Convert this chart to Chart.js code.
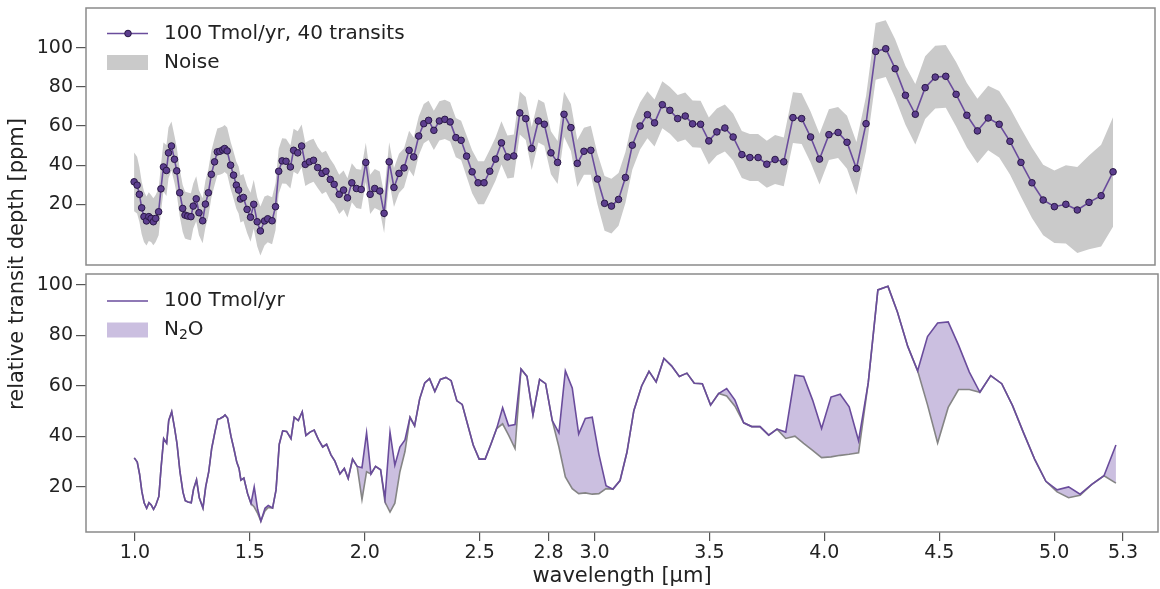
<!DOCTYPE html>
<html><head><meta charset="utf-8">
<script src="https://cdn.jsdelivr.net/npm/chart.js@4.4.1/dist/chart.umd.min.js"></script>
<style>
html,body{margin:0;padding:0;background:#fff;}
#wrap{position:relative;width:1160px;height:589px;overflow:hidden;}
.box{position:absolute;left:0;top:0;width:1160px;}
</style></head><body>
<div id="wrap">
  <div class="box" style="height:589px"><canvas id="cBottom"></canvas></div>
  <div class="box" style="height:272px"><canvas id="cTop"></canvas></div>
</div>
<script>
// ---------- data ----------
const wavelength = [
0.997,1.010,1.020,1.030,1.040,1.051,1.061,1.071,1.081,1.091,
1.104,1.114,1.125,1.138,1.147,1.160,1.173,1.183,1.196,1.209,
1.219,1.231,1.245,1.255,1.268,1.280,1.296,1.308,1.321,1.334,
1.348,1.360,1.371,1.384,1.392,1.403,1.418,1.431,1.443,1.453,
1.461,1.474,1.490,1.505,1.519,1.534,1.548,1.566,1.580,1.599,
1.614,1.628,1.643,1.660,1.679,1.693,1.711,1.728,1.744,1.762,
1.780,1.798,1.817,1.834,1.853,1.870,1.892,1.911,1.928,1.947,
1.967,1.988,2.008,2.027,2.047,2.069,2.088,2.110,2.131,2.153,
2.175,2.197,2.217,2.239,2.261,2.282,2.305,2.329,2.353,2.376,
2.401,2.424,2.448,2.472,2.498,2.524,2.549,2.574,2.600,2.626,
2.654,2.680,2.706,2.732,2.761,2.787,2.816,2.845,2.873,2.903,
2.931,2.960,2.990,3.019,3.050,3.080,3.111,3.141,3.171,3.205,
3.237,3.268,3.302,3.335,3.369,3.402,3.434,3.469,3.505,3.540,
3.575,3.611,3.649,3.684,3.720,3.758,3.794,3.832,3.872,3.910,
3.949,3.988,4.029,4.069,4.108,4.149,4.191,4.233,4.277,4.318,
4.363,4.406,4.449,4.493,4.539,4.584,4.631,4.677,4.724,4.772,
4.819,4.867,4.915,4.964,5.013,5.063,5.113,5.164,5.217,5.269];

// relative transit depth [ppm], 100 Tmol/yr spectrum
const depth = [
31.5,29.8,25.1,18.2,13.7,11.5,13.7,12.8,11.1,12.8,
16.2,27.9,39.1,37.3,46.3,49.8,43.0,37.1,25.9,17.9,
14.5,14.0,13.7,19.1,22.8,15.7,11.6,20.1,25.9,35.3,
41.7,46.8,47.1,47.8,48.5,47.3,40.0,34.9,29.8,27.3,
22.7,23.5,17.4,13.4,20.0,11.1,6.4,11.5,12.6,11.6,
18.8,36.9,42.2,42.0,39.1,47.6,46.3,49.8,40.4,41.7,
42.5,38.8,35.8,36.9,32.7,30.2,25.1,27.3,23.3,31.0,
28.1,27.6,41.4,25.1,28.1,26.8,15.4,41.7,28.6,35.8,
38.6,47.6,44.2,54.9,61.2,62.9,57.8,62.6,63.4,62.1,
54.1,52.7,44.6,36.6,31.0,31.0,36.9,43.1,51.4,44.2,
44.7,66.7,63.8,48.5,62.6,60.9,46.3,41.4,66.0,59.2,
40.9,47.1,47.6,32.9,20.5,19.1,22.5,33.7,50.2,60.0,
65.8,61.6,70.9,68.0,63.8,65.1,61.1,60.9,52.4,57.0,
59.0,54.4,45.4,43.9,43.9,40.5,42.9,41.7,64.3,63.8,
54.4,43.1,55.6,56.7,51.7,38.3,61.2,98.1,99.5,89.3,
75.7,66.0,79.6,85.0,85.4,76.2,65.5,57.5,64.1,60.9,
52.2,41.4,31.0,22.2,18.8,20.0,17.1,21.0,24.4,36.6];

// same spectrum without N2O (grey line in the lower panel)
const noN2O = [
31.5,29.8,25.1,18.2,13.7,11.5,13.7,12.8,11.1,12.8,
16.2,27.9,39.1,37.3,46.3,49.8,43.0,37.1,25.9,17.9,
14.5,14.0,13.7,19.1,22.8,15.7,11.6,20.1,25.9,35.3,
41.7,46.8,47.1,47.8,48.5,47.3,40.0,34.9,29.8,27.3,
22.7,23.5,17.4,13.4,12.0,9.5,6.4,10.5,11.8,11.6,
18.8,36.9,42.2,42.0,39.1,47.6,46.3,49.8,40.4,41.7,
42.5,38.8,35.8,36.9,32.7,30.2,25.1,27.3,23.3,31.0,
28.1,15.0,26.0,25.1,28.1,26.8,14.0,10.0,13.5,26.0,
34.0,47.6,44.2,54.9,61.2,62.9,57.8,62.6,63.4,62.1,
54.1,52.7,44.6,36.6,31.0,31.0,36.9,43.1,45.0,40.5,
35.2,66.7,63.8,48.5,62.6,60.9,46.3,35.8,23.9,19.3,
17.3,17.6,17.1,17.3,19.3,19.1,22.5,33.7,50.2,60.0,
65.8,61.6,70.9,68.0,63.8,65.1,61.1,60.9,52.4,57.0,
56.0,52.0,45.4,43.9,43.9,40.5,42.9,39.2,40.1,37.2,
34.5,31.6,31.9,32.5,32.9,33.5,61.2,98.1,99.5,89.3,
75.7,66.0,52.5,37.4,51.5,58.6,58.6,57.5,64.1,60.9,
52.2,41.4,31.0,22.2,18.0,15.7,16.7,21.0,24.4,21.5];

// half-width of the noise band (40 transits) [ppm]
const noise = [
15,14.5,14,13.5,13,12.5,12.5,12,12,12,
12,12,12.5,13,13,12.5,12,12,12,12,
12,12,12,11.5,11.5,11.5,11.5,12,12,12,
12,12,12,12,12,12,12,12,12,12,
12,12,12,12.5,12.5,12.5,12.5,12.5,12,12,
12,11.5,11.5,11.5,11,11,11,11,11,11,
11,10.5,10.5,10.5,10.5,10,10,10,10,10,
10,10,10,10,10,10,10,10,10,10,
10,10,10,10,10,10,10,10,10,10,
10,10,10.5,11,11,11,11,11,11,11,
11,11,11,11,11,11,11,11,11.5,12,
12,12,12.5,13,14,14,13.5,13,12.5,12,
12,12,12,12,12,12,12,12,12,12,
12,12,12,12,12,12,12.5,12.5,13,13,
13,13,13,13,13.5,13.5,14,14.5,14.5,15,
15,15.5,16,16,16,16.5,16.5,16.5,16.5,17,
17,17.5,18,18,18.5,20,22,24,26,28];

const xTickValues = [1.0, 1.5, 2.0, 2.5, 2.8, 3.0, 3.5, 4.0, 4.5, 5.0, 5.3];
const yTickValues = [20, 40, 60, 80, 100];

// ---------- styling ----------
const FONT = "'DejaVu Sans', sans-serif";
const PURPLE = '#6a4c9c';
const MARKER = '#5c3e8e';
const MARKER_EDGE = '#2a1846';
const BAND = '#cacaca';
const LAV = '#cbbfe0';
const GREYLINE = '#858585';
const TXT = '#222';

const pts = arr => wavelength.map((w, i) => ({x: w, y: arr[i]}));
const upper = depth.map((v, i) => v + noise[i]);
const lower = depth.map((v, i) => v - noise[i]);

const framePlugin = {
  id: 'frame',
  afterDatasetsDraw(chart) {
    const {ctx, chartArea: a} = chart;
    ctx.save();
    ctx.strokeStyle = '#8a8a8a';
    ctx.lineWidth = 1.5;
    ctx.strokeRect(a.left, a.top, a.right - a.left, a.bottom - a.top);
    ctx.restore();
  }
};

function legendPlugin(items) {
  return {
    id: 'customLegend',
    afterDraw(chart) {
      const ctx = chart.ctx;
      ctx.save();
      ctx.textBaseline = 'middle';
      ctx.textAlign = 'left';
      items.forEach(it => {
        if (it.kind === 'line' || it.kind === 'marker') {
          ctx.strokeStyle = PURPLE;
          ctx.lineWidth = 1.6;
          ctx.beginPath();
          ctx.moveTo(107, it.y);
          ctx.lineTo(148, it.y);
          ctx.stroke();
          if (it.kind === 'marker') {
            ctx.beginPath();
            ctx.arc(128, it.y, 3.3, 0, Math.PI * 2);
            ctx.fillStyle = MARKER;
            ctx.fill();
            ctx.strokeStyle = MARKER_EDGE;
            ctx.lineWidth = 1;
            ctx.stroke();
          }
        } else {
          ctx.fillStyle = it.color;
          ctx.fillRect(107, it.y - 7.5, 41, 15);
        }
        ctx.fillStyle = TXT;
        // text given as parts: [string, subscript?]
        let x = 164;
        it.parts.forEach(p => {
          const sub = p[1];
          ctx.font = (sub ? '14px ' : '20px ') + FONT;
          ctx.fillText(p[0], x, it.y + (sub ? 5 : 0));
          x += ctx.measureText(p[0]).width;
        });
      });
      ctx.restore();
    }
  };
}

const yTitlePlugin = {
  id: 'yTitle',
  afterDraw(chart) {
    const ctx = chart.ctx;
    ctx.save();
    ctx.translate(18, 264);
    ctx.rotate(-Math.PI / 2);
    ctx.font = '21px ' + FONT;
    ctx.fillStyle = TXT;
    ctx.textAlign = 'center';
    ctx.textBaseline = 'middle';
    ctx.fillText('relative transit depth [ppm]', 0, 0);
    ctx.restore();
  }
};

function yScale(min, max) {
  return {
    type: 'linear', min: min, max: max,
    afterBuildTicks: s => { s.ticks = yTickValues.map(v => ({value: v})); },
    afterFit: s => { s.width = 86; s.paddingTop = 0; s.paddingBottom = 0; },
    ticks: {font: {family: FONT, size: 19}, color: TXT, padding: 3},
    grid: {display: true, drawOnChartArea: false, drawTicks: true, tickLength: 10, color: '#555', lineWidth: 1.2},
    border: {display: false}
  };
}

function xScale(show) {
  return {
    type: 'linear', min: 0.787, max: 5.452,
    display: show,
    afterBuildTicks: s => { s.ticks = xTickValues.map(v => ({value: v})); },
    afterFit: s => { if (show) s.height = 57; s.paddingLeft = 0; s.paddingRight = 0; },
    ticks: {font: {family: FONT, size: 19}, color: TXT, padding: 1, maxRotation: 0, autoSkip: false,
            callback: v => Number(v).toFixed(1)},
    grid: {display: true, drawOnChartArea: false, drawTicks: true, tickLength: 9, color: '#555', lineWidth: 1.2},
    border: {display: false},
    title: {display: show, text: 'wavelength [µm]', font: {family: FONT, size: 21}, color: TXT, padding: {top: 0, bottom: 0}}
  };
}

const common = {
  responsive: true, maintainAspectRatio: false, animation: false, events: [],
  plugins: {legend: {display: false}, tooltip: {enabled: false}, filler: {drawTime: 'beforeDatasetsDraw'}},
  elements: {line: {tension: 0}}
};

// ---------- top panel ----------
new Chart(document.getElementById('cTop'), {
  type: 'line',
  data: {datasets: [
    {data: pts(depth), borderColor: PURPLE, borderWidth: 1.6, pointRadius: 3.3,
     pointBackgroundColor: MARKER, pointBorderColor: MARKER_EDGE, pointBorderWidth: 1, fill: false},
    {data: pts(upper), borderColor: 'rgba(0,0,0,0)', borderWidth: 0, pointRadius: 0, backgroundColor: BAND, fill: '+1'},
    {data: pts(lower), borderColor: 'rgba(0,0,0,0)', borderWidth: 0, pointRadius: 0, fill: false}
  ]},
  options: Object.assign({}, common, {
    layout: {padding: {top: 8, right: 2, bottom: 7, left: 0}},
    scales: {x: xScale(false), y: yScale(-11, 120.3)}
  }),
  plugins: [framePlugin, legendPlugin([
    {kind: 'marker', y: 33.5, parts: [['100 Tmol/yr, 40 transits', false]]},
    {kind: 'rect', y: 62.5, color: BAND, parts: [['Noise', false]]}
  ])]
});

// ---------- bottom panel ----------
new Chart(document.getElementById('cBottom'), {
  type: 'line',
  data: {datasets: [
    {data: pts(depth), borderColor: PURPLE, borderWidth: 1.6, pointRadius: 0,
     fill: {target: '+1', above: LAV, below: LAV}},
    {data: pts(noN2O), borderColor: GREYLINE, borderWidth: 1.6, pointRadius: 0, fill: false}
  ]},
  options: Object.assign({}, common, {
    layout: {padding: {top: 274, right: 2, bottom: 0, left: 0}},
    scales: {x: xScale(true), y: yScale(2.1, 104.4)}
  }),
  plugins: [framePlugin, yTitlePlugin, legendPlugin([
    {kind: 'line', y: 301, parts: [['100 Tmol/yr', false]]},
    {kind: 'rect', y: 330, color: LAV, parts: [['N', false], ['2', true], ['O', false]]}
  ])]
});
</script>
</body></html>
